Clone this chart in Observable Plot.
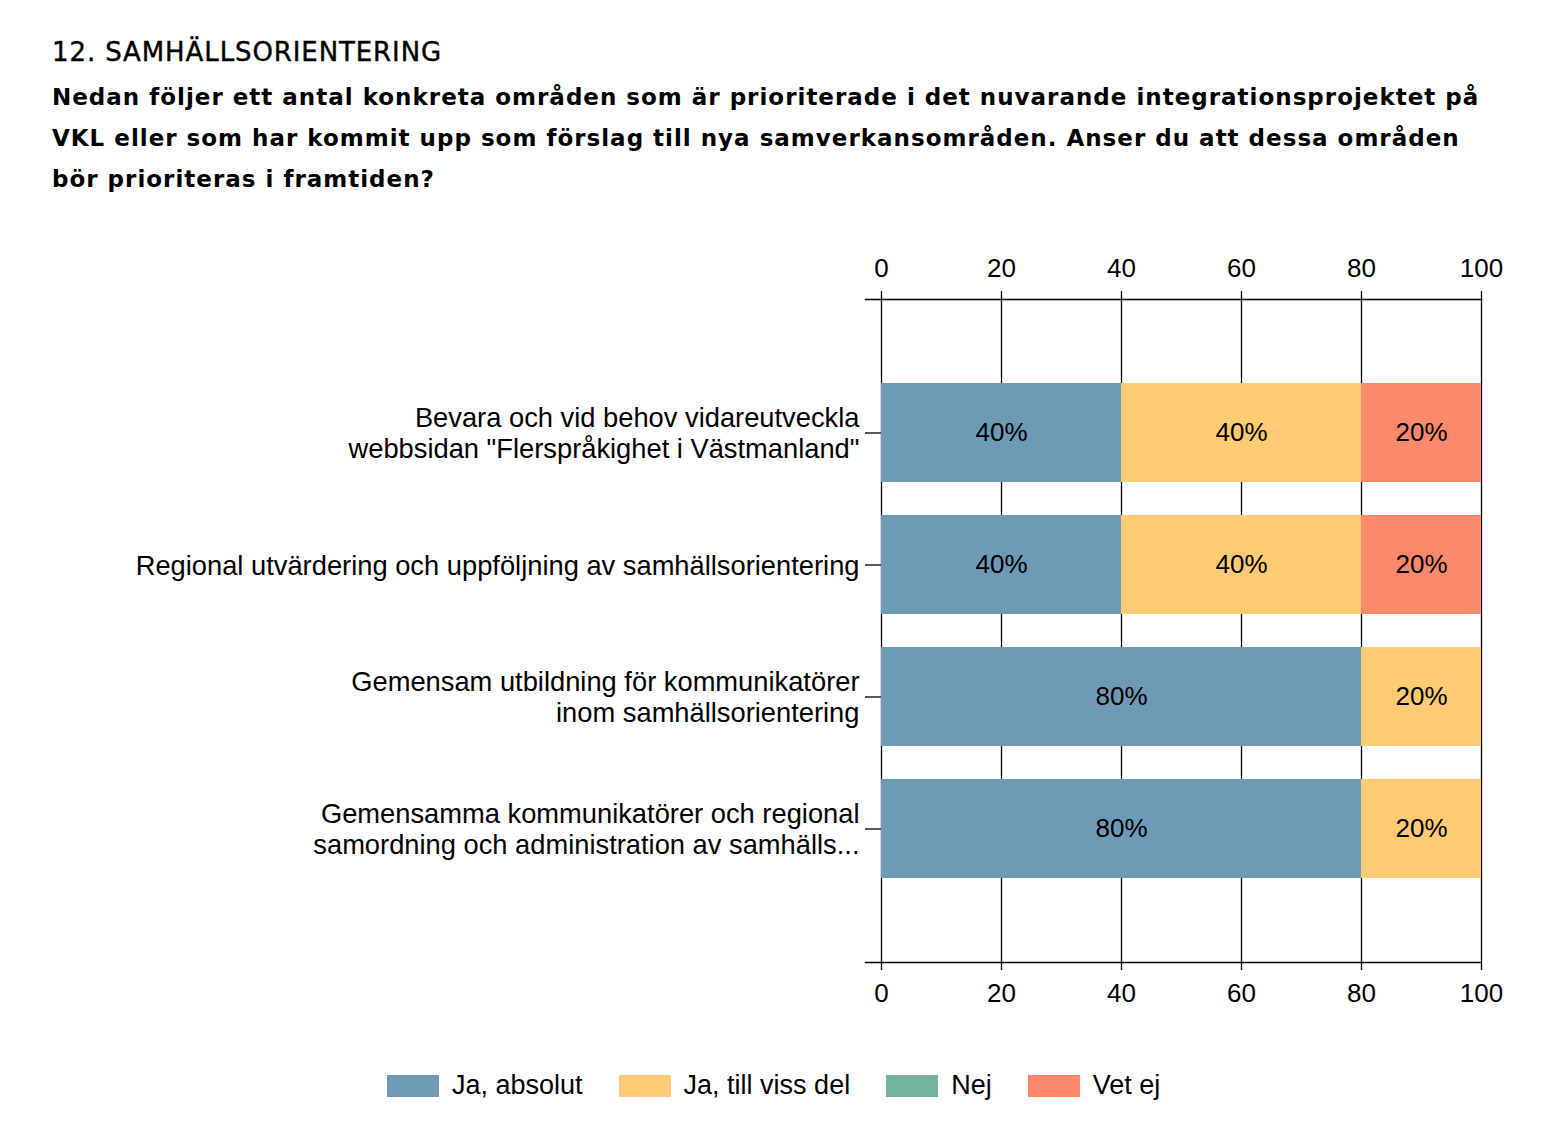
<!DOCTYPE html>
<html><head><meta charset="utf-8">
<script src="https://cdn.jsdelivr.net/npm/d3@7"></script>
<script src="https://cdn.jsdelivr.net/npm/@observablehq/plot@0.6"></script>
<style>
body{margin:0;background:#fff;width:1562px;height:1148px;position:relative;overflow:hidden}
#title{position:absolute;left:52px;top:37px;font-family:"DejaVu Sans";font-size:26px;letter-spacing:0.9px;color:#000;white-space:nowrap;-webkit-text-stroke:0.4px #000}
#sub{position:absolute;left:52px;top:77px;font-family:"DejaVu Sans";font-weight:bold;font-size:23px;line-height:41px;color:#000;white-space:nowrap;letter-spacing:1px}
#chart{position:absolute;left:0;top:230px}
#legend{position:absolute;left:387px;top:1070px;display:flex;align-items:center;font-family:"Liberation Sans",Arial,sans-serif;font-size:27px;color:#000}
#legend .item{display:flex;align-items:center;margin-right:36px}
#legend .sw{width:52px;height:22px;margin-right:13px}
</style></head><body>
<div id="title"></div>
<div id="sub"></div>
<div id="chart"></div>
<div id="legend"></div>
<script>
const titleText = "12. SAMHÄLLSORIENTERING";
const subtitleLines = [
  "Nedan följer ett antal konkreta områden som är prioriterade i det nuvarande integrationsprojektet på",
  "VKL eller som har kommit upp som förslag till nya samverkansområden. Anser du att dessa områden",
  "bör prioriteras i framtiden?"
];
const categories = [
  "Bevara och vid behov vidareutveckla\nwebbsidan \"Flerspråkighet i Västmanland\"",
  "Regional utvärdering och uppföljning av samhällsorientering",
  "Gemensam utbildning för kommunikatörer\ninom samhällsorientering",
  "Gemensamma kommunikatörer och regional\nsamordning och administration av samhälls..."
];
const responses = ["Ja, absolut", "Ja, till viss del", "Nej", "Vet ej"];
const colors = ["#6E9AB8", "#FECB74", "#72B4A0", "#FE886C"];
const jaAbsolut = [40, 40, 80, 80];
const jaDelvis = [40, 40, 20, 20];
const nej = [0, 0, 0, 0];
const vetEj = [20, 20, 0, 0];
const ticks = [0, 20, 40, 60, 80, 100];

document.getElementById("title").textContent = titleText;
document.getElementById("sub").innerHTML = subtitleLines.join("<br>");

const series = [jaAbsolut, jaDelvis, nej, vetEj];
const data = [];
categories.forEach((c, i) => responses.forEach((r, j) => {
  if (series[j][i] > 0) data.push({cat: c, resp: r, value: series[j][i]});
}));

const font = "Liberation Sans, Arial, sans-serif";
const chart = Plot.plot({
  width: 1562,
  height: 800,
  marginLeft: 881,
  marginRight: 81,
  marginTop: 69,
  marginBottom: 68,
  style: {fontFamily: font, fontSize: "26px", color: "#000", background: "#fff"},
  x: {domain: [0, 100], ticks: ticks, label: null},
  y: {domain: categories, paddingInner: 0.253, paddingOuter: 0.63, label: null},
  color: {domain: responses, range: colors},
  marks: [
    Plot.gridX(ticks, {stroke: "#000", strokeOpacity: 1, strokeWidth: 1.3}),
    Plot.barX(data, Plot.stackX({y: "cat", x: "value", fill: "resp", z: "resp", order: responses})),
    Plot.text(data, Plot.stackX({y: "cat", x: "value", z: "resp", order: responses, text: d => d.value + "%", fill: "#000", fontSize: 26})),
    Plot.axisX(ticks, {anchor: "top", tickSize: 9, tickPadding: 14, fontSize: 26, label: null, strokeWidth: 1.3}),
    Plot.axisX(ticks, {anchor: "bottom", tickSize: 8, tickPadding: 13, fontSize: 26, label: null, strokeWidth: 1.3}),
    Plot.axisY({anchor: "left", tickSize: 16, tickPadding: 6, fontSize: 27.3, lineHeight: 1.13, label: null, strokeWidth: 1.3}),
    Plot.frame({anchor: "top", insetLeft: -16, stroke: "#000", strokeWidth: 1.3}),
    Plot.frame({anchor: "bottom", insetLeft: -16, stroke: "#000", strokeWidth: 1.3})
  ]
});
document.getElementById("chart").appendChild(chart);

const legend = document.getElementById("legend");
responses.forEach((r, i) => {
  const item = document.createElement("div");
  item.className = "item";
  const sw = document.createElement("div");
  sw.className = "sw";
  sw.style.background = colors[i];
  const t = document.createElement("span");
  t.textContent = r;
  item.appendChild(sw);
  item.appendChild(t);
  legend.appendChild(item);
});
</script>
</body></html>
